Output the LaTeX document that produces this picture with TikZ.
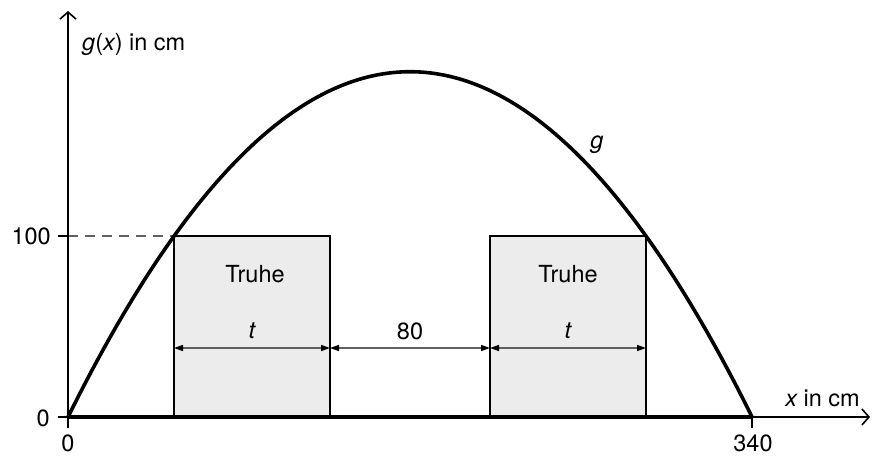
\documentclass[tikz,border=0pt]{standalone}
\usepackage{fontspec}
\setmainfont{TeX Gyre Heros}
\usetikzlibrary{arrows.meta}
\begin{document}
\begin{tikzpicture}[x=1pt,y=-1pt,
  axis/.style={line width=1.6pt,-{Straight Barb[length=7pt,width=16pt,line width=1.6pt]}},
  tk/.style={line width=1.6pt},
  box/.style={draw=black,line width=1.6pt,fill=gray!15},
  dim/.style={draw=gray!75!black,line width=1.5pt,{Triangle[length=9pt,width=6pt,fill=black,color=black]}-{Triangle[length=9pt,width=6pt,fill=black,color=black]}},
  lbl/.style={font=\fontsize{23.5}{26}\selectfont,inner sep=0pt},
  curve/.style={line width=3.6pt}]
\useasboundingbox (0,0) rectangle (872,456);
% boxes
\path[box] (174,236) rectangle (330,417);
\path[box] (490,236) rectangle (646,417);
% dashed
\draw[gray!75!black,line width=1.3pt,dash pattern=on 10pt off 7pt] (68,236) -- (174,236);
% axes
\coordinate (O) at (68,417);
\coordinate (xend) at (870,417);
\coordinate (yend) at (68,11);
\draw[axis] (68,428) -- (yend);
\draw[axis] (58,417) -- (xend);
\draw[tk] (58,236) -- (68,236);
\draw[tk] (752,417) -- (752,428);
\draw[line width=3.2pt] (68,417) -- (752,417);
% parabola
\draw[curve] plot[domain=0:340,samples=120,smooth] ({68+2.012*\x},{417-1.81*0.006605*\x*(340-\x)});
% dimension arrows
\coordinate (d1) at (174,348);
\coordinate (d2) at (330,348);
\coordinate (d3) at (490,348);
\coordinate (d4) at (646,348);
\draw[dim] (d1) -- (d2);
\draw[dim] (d2) -- (d3);
\draw[dim] (d3) -- (d4);
% labels
\node[lbl] (t1) at (252,331) {\itshape t};
\node[lbl] (n80) at (410,331) {80};
\node[lbl] (t2) at (568,331) {\itshape t};
\node[lbl] (tr1) at (255,274) {Truhe};
\node[lbl] (tr2) at (568,274) {Truhe};
\node[lbl,anchor=west] (ylab) at (82,44) {\itshape g\upshape(\itshape x\upshape) in cm};
\node[lbl,anchor=east] (xlab) at (860,398) {\itshape x\upshape{} in cm};
\node[lbl] (glab) at (597,145) {\itshape g};
\node[lbl,anchor=east] (y100) at (51,236) {100};
\node[lbl,anchor=east] (y0) at (50,418) {0};
\node[lbl] (x0) at (68,443) {0};
\node[lbl] (x340) at (753,443) {340};
\end{tikzpicture}
\end{document}
